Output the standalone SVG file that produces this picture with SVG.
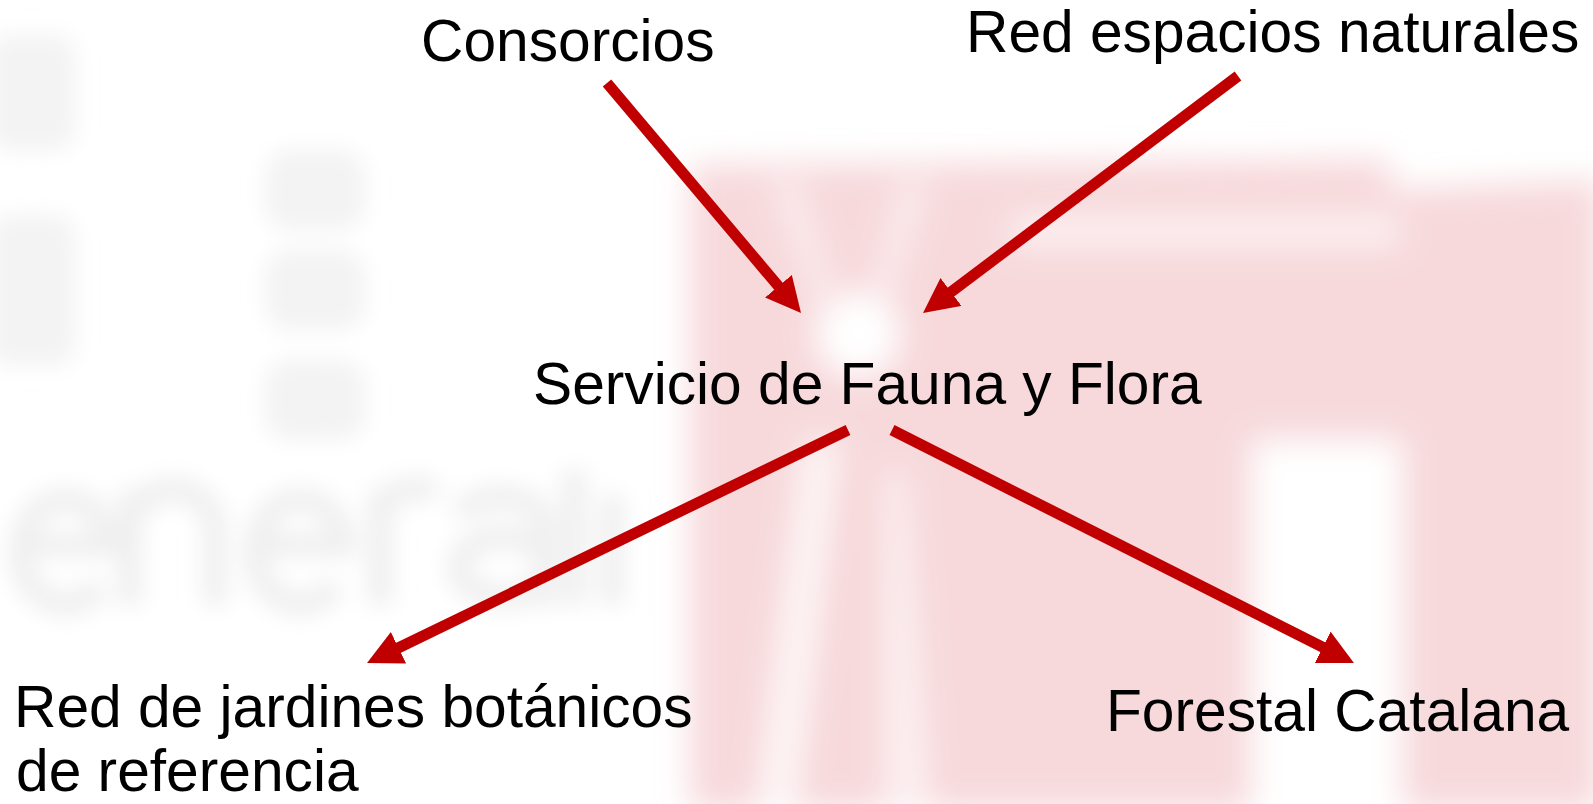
<svg xmlns="http://www.w3.org/2000/svg" width="1593" height="804" viewBox="0 0 1593 804">
<defs>
<style>
.lbl{font-family:"Liberation Sans",Arial,sans-serif;font-size:58.7px;fill:#000}
.edge{stroke:#C00000;stroke-width:11;fill:none;marker-end:url(#ah)}
.gl{fill:none;stroke:#efefef;stroke-width:24}
.gb{fill:#f3f3f3}
</style>
<marker id="ah" markerUnits="userSpaceOnUse" markerWidth="36" markerHeight="36" viewBox="0 0 36 36" refX="1" refY="17.5" orient="auto">
<path d="M0,0 L35,17.5 L0,35 Z" fill="#C00000"/>
</marker>
<filter id="blurP" x="-20%" y="-20%" width="140%" height="140%"><feGaussianBlur stdDeviation="16"/></filter>
<filter id="blurG" x="-20%" y="-20%" width="140%" height="140%"><feGaussianBlur stdDeviation="11"/></filter>
</defs>
<rect width="1593" height="804" fill="#ffffff"/>
<g id="background">
<g filter="url(#blurG)">
<rect class="gb" x="-10" y="35" width="85" height="115" rx="20"/>
<rect class="gb" x="-10" y="215" width="85" height="150" rx="20"/>
<rect class="gb" x="265" y="150" width="100" height="80" rx="25"/>
<rect class="gb" x="265" y="250" width="100" height="80" rx="25"/>
<rect class="gb" x="265" y="360" width="100" height="80" rx="25"/>
<path class="gl" d="M22,545 H110 A45,52 0 1 0 100,585"/>
<path class="gl" d="M130,605 V490 M130,530 A42,40 0 0 1 215,530 V605"/>
<path class="gl" d="M255,545 H345 A45,52 0 1 0 335,585"/>
<path class="gl" d="M380,605 V490 M380,530 A35,35 0 0 1 435,495"/>
<path class="gl" d="M460,515 A45,30 0 0 1 545,520 V605 M545,555 A45,30 0 1 0 540,585"/>
<path class="gl" d="M574,605 V470"/>
<path class="gl" d="M612,605 V495"/>
</g>
<g filter="url(#blurP)">
<path d="M690,165 L1390,160 L1390,190 L1600,180 L1600,810 L690,810 Z" fill="#f7d9dc"/>
<circle cx="858" cy="335" r="42" fill="#ffffff"/>
<rect x="1010" y="215" width="390" height="32" fill="#ffffff" opacity="0.6"/>
<rect x="1252" y="440" width="150" height="380" fill="#ffffff"/>
<polygon points="805,440 838,440 795,810 758,810" fill="#ffffff" opacity="0.8"/>
<polygon points="885,470 905,470 930,810 885,810" fill="#ffffff" opacity="0.6"/>
<polygon points="770,180 800,180 835,300 815,300" fill="#ffffff" opacity="0.5"/>
<polygon points="900,180 930,180 890,300 870,300" fill="#ffffff" opacity="0.5"/>
</g>
</g>
<g id="connectors">
<line class="edge" x1="607" y1="83" x2="779.1" y2="287"/>
<line class="edge" x1="1238" y1="76" x2="950.2" y2="292.6"/>
<line class="edge" x1="848" y1="430" x2="397.6" y2="648.2"/>
<line class="edge" x1="892" y1="430" x2="1323.6" y2="647.7"/>
</g>
<g id="node-consorcios"><text class="lbl" x="421" y="61">Consorcios</text></g>
<g id="node-red-espacios"><text class="lbl" x="966" y="52">Red espacios naturales</text></g>
<g id="node-servicio"><text class="lbl" x="533" y="404">Servicio de Fauna y Flora</text></g>
<g id="node-jardines"><text class="lbl" x="14" y="727">Red de jardines botánicos</text><text class="lbl" x="16" y="791">de referencia</text></g>
<g id="node-forestal"><text class="lbl" x="1106" y="731">Forestal Catalana</text></g>
</svg>
